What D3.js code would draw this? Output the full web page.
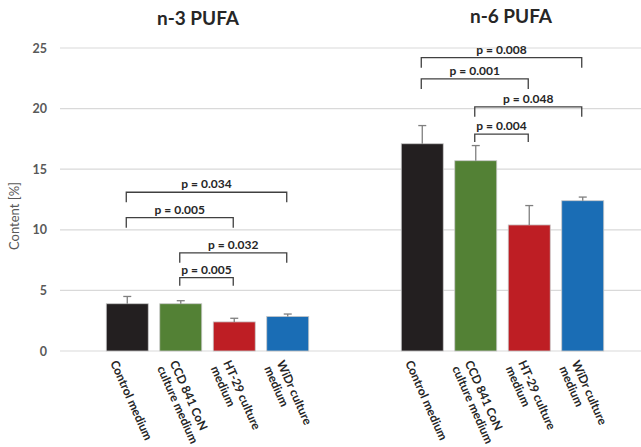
<!DOCTYPE html>
<html>
<head>
<meta charset="utf-8">
<script src="https://cdn.jsdelivr.net/npm/d3@7"></script>
<style>
  body { margin: 0; background: #fff; }
  text { font-family: Lato, "Open Sans", sans-serif; }
</style>
</head>
<body>
<div id="vis-container"></div>
<script>
// data
var groups = ["n-3 PUFA", "n-6 PUFA"];
var media = ["Control medium", "CCD 841 CoN culture medium", "HT-29 culture medium", "WiDr culture medium"];
var mediaLines = [["Control medium"], ["CCD 841 CoN", "culture medium"], ["HT-29 culture", "medium"], ["WiDr culture", "medium"]];
var colors = ["#231f20", "#538135", "#be1e24", "#1a6db5"];
var n3Means = [3.9, 3.9, 2.4, 2.85];
var n3Err = [0.6, 0.25, 0.3, 0.2];
var n6Means = [17.1, 15.7, 10.4, 12.4];
var n6Err = [1.5, 1.25, 1.6, 0.3];
var yTicks = [0, 5, 10, 15, 20, 25];
// [from, to, label, height]
var n3Pairs = [[0, 3, "p = 0.034", 13.1], [0, 2, "p = 0.005", 11.0], [1, 3, "p = 0.032", 8.1], [1, 2, "p = 0.005", 6.05]];
var n6Pairs = [[0, 3, "p = 0.008", 24.2], [0, 2, "p = 0.001", 22.45], [1, 3, "p = 0.048", 20.15], [1, 2, "p = 0.004", 17.9]];

var width = 641, height = 447;
var margins = { top: 48, left: 60, bottom: 96 };

var svg = d3.select("#vis-container").append("svg")
    .attr("width", width)
    .attr("height", height);

var y = d3.scaleLinear().domain([0, 25]).range([height - margins.bottom, margins.top]);
var x0 = d3.scaleBand().domain(groups).range([margins.left, 650]);
var x1 = d3.scaleBand().domain(media).range([0, x0.bandwidth()])
    .paddingInner(0.215).paddingOuter(0.865);

var data = [];
groups.forEach(function (g, gi) {
    var means = gi === 0 ? n3Means : n6Means;
    var errs = gi === 0 ? n3Err : n6Err;
    media.forEach(function (m, mi) {
        data.push({ group: g, medium: m, i: mi, value: means[mi], err: errs[mi] });
    });
});

// gridlines
svg.append("g").selectAll("line")
    .data(yTicks).enter().append("line")
    .attr("x1", margins.left).attr("x2", width)
    .attr("y1", d => y(d)).attr("y2", d => y(d))
    .attr("stroke", "#d9d9d9").attr("stroke-width", 1.2);

// y tick labels
svg.append("g").selectAll("text")
    .data(yTicks).enter().append("text")
    .attr("x", 47).attr("y", d => y(d) + 4.5)
    .attr("text-anchor", "end")
    .attr("font-size", 12.5).attr("font-weight", "bold")
    .attr("fill", "#595959")
    .text(d => d);

svg.append("text")
    .attr("transform", "translate(19,216) rotate(-90)")
    .attr("text-anchor", "middle")
    .attr("font-size", 13).attr("fill", "#595959")
    .text("Content [%]");

function cx(g, i) { return x0(g) + x1(media[i]) + x1.bandwidth() / 2; }

// bars
svg.append("g").selectAll("rect")
    .data(data).enter().append("rect")
    .attr("x", d => x0(d.group) + x1(d.medium))
    .attr("width", x1.bandwidth())
    .attr("y", d => y(d.value))
    .attr("height", d => y(0) - y(d.value))
    .attr("fill", d => colors[d.i])
    .attr("stroke", "#c8c8c8").attr("stroke-width", 0.8);

// error bars (upper only)
var eb = svg.append("g").attr("stroke", "#7f7f7f").attr("stroke-width", 1.3);
eb.selectAll(".v").data(data).enter().append("line")
    .attr("x1", d => cx(d.group, d.i)).attr("x2", d => cx(d.group, d.i))
    .attr("y1", d => y(d.value)).attr("y2", d => y(d.value + d.err));
eb.selectAll(".h").data(data).enter().append("line")
    .attr("x1", d => cx(d.group, d.i) - 4).attr("x2", d => cx(d.group, d.i) + 4)
    .attr("y1", d => y(d.value + d.err)).attr("y2", d => y(d.value + d.err));

// significance brackets
function drawBrackets(g, pairs) {
    var br = svg.append("g");
    pairs.forEach(function (p) {
        var xa = cx(g, p[0]) - 1, xb = cx(g, p[1]) - 1, yy = y(p[3]);
        var drop = p[1] - p[0] > 1 ? 10 : 8;
        br.append("path")
            .attr("d", "M" + xa + "," + (yy + drop) + "V" + yy + "H" + xb + "V" + (yy + drop))
            .attr("fill", "none").attr("stroke", "#404040").attr("stroke-width", 1.3);
        br.append("text")
            .attr("x", (xa + xb) / 2).attr("y", yy - 4)
            .attr("text-anchor", "middle")
            .attr("font-size", 12).attr("font-weight", "bold")
            .attr("fill", "#262626")
            .text(p[2]);
    });
}
drawBrackets(groups[0], n3Pairs);
drawBrackets(groups[1], n6Pairs);

// titles
var titleX = [198, 511];
svg.append("g").selectAll("text")
    .data(groups).enter().append("text")
    .attr("x", (d, i) => titleX[i]).attr("y", (d, i) => i === 0 ? 25 : 23)
    .attr("text-anchor", "middle")
    .attr("font-size", 19).attr("font-weight", "bold")
    .attr("fill", "#262626")
    .text(d => d);

// rotated category labels
var labels = [];
groups.forEach(function (g) {
    mediaLines.forEach(function (lines, i) { labels.push({ g: g, i: i, lines: lines }); });
});
var lab = svg.append("g").selectAll("text")
    .data(labels).enter().append("text")
    .attr("transform", d => "translate(" + (cx(d.g, d.i) - 9 + (d.lines.length - 1) * 6) + "," + (y(0) + 8) + ") rotate(66)")
    .attr("font-size", 12).attr("font-weight", "bold")
    .attr("fill", "#262626");
lab.selectAll("tspan")
    .data(d => d.lines).enter().append("tspan")
    .attr("x", 0).attr("dy", (d, i) => i === 0 ? "0.75em" : "1.15em")
    .text(d => d);
</script>
</body>
</html>
